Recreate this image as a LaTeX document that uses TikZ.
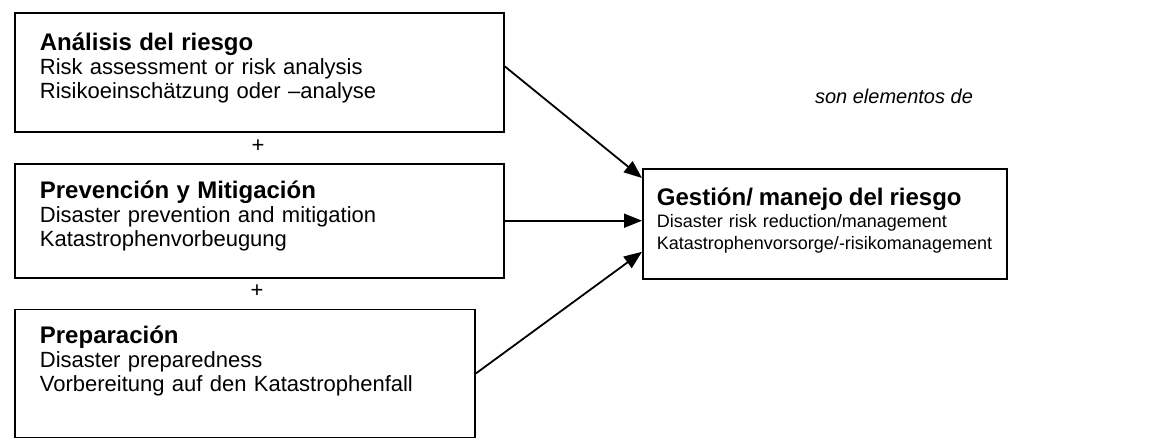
\documentclass[tikz,border=0pt]{standalone}
\usepackage{fontspec}
\setmainfont{Liberation Sans}
\usepackage{tikz}
\usetikzlibrary{arrows.meta}
\usetikzlibrary{positioning}

\newcommand{\boxhead}[1]{{\fontsize{12}{12}\selectfont\bfseries #1}}

\tikzset{
    riskbox/.style={draw, line width=0.9pt, anchor=north west, align=left,
        inner xsep=12.5pt, text depth=31pt, font=\fontsize{11}{12}\selectfont},
}

\begin{document}
\begin{tikzpicture}[x=0.5pt, y=-0.5pt, node distance=15pt, >={Triangle[length=9pt,width=7pt]}]
    \useasboundingbox (0,0) rectangle (1171,438);
    \node [riskbox, text width=219.5pt, minimum height=59.5pt] (analysis) at (14,12)
        {\boxhead{Análisis del riesgo}\\ Risk assessment or risk analysis\\ Risikoeinschätzung oder –analyse};
    \node [riskbox, text width=219.5pt, minimum height=57pt] (prevention) [below=of analysis.south west, anchor=north west]
        {\boxhead{Prevención y Mitigación}\\ Disaster prevention and mitigation\\ Katastrophenvorbeugung};
    \node [riskbox, text width=205pt, minimum height=64pt, text depth=39pt] (preparation) [below=15pt of prevention.south west, anchor=north west]
        {\boxhead{Preparación}\\ Disaster preparedness\\ Vorbereitung auf den Katastrophenfall};
    \node [riskbox, inner xsep=7pt, text width=168pt, minimum height=55pt, text depth=27pt, font=\fontsize{9}{11}\selectfont] (management) at (642,168)
        {\boxhead{Gestión/ manejo del riesgo}\\ Disaster risk reduction/management\\ Katastrophenvorsorge/-risikomanagement};
    \node [font=\fontsize{10}{12}\selectfont\itshape] (elements) at (894,96) {son elementos de};
    \node [font=\fontsize{11}{12}\selectfont] (plus1) at (258,146) {+};
    \node [font=\fontsize{11}{12}\selectfont] (plus2) at (257,291) {+};
    \path[->, line width=0.9pt]
        ([yshift=3pt]analysis.east) edge ([yshift=-5pt]management.north west)
        (prevention.east) edge (prevention.east -| management.west)
        (preparation.east) edge ([yshift=14pt]management.south west);
\end{tikzpicture}
\end{document}
